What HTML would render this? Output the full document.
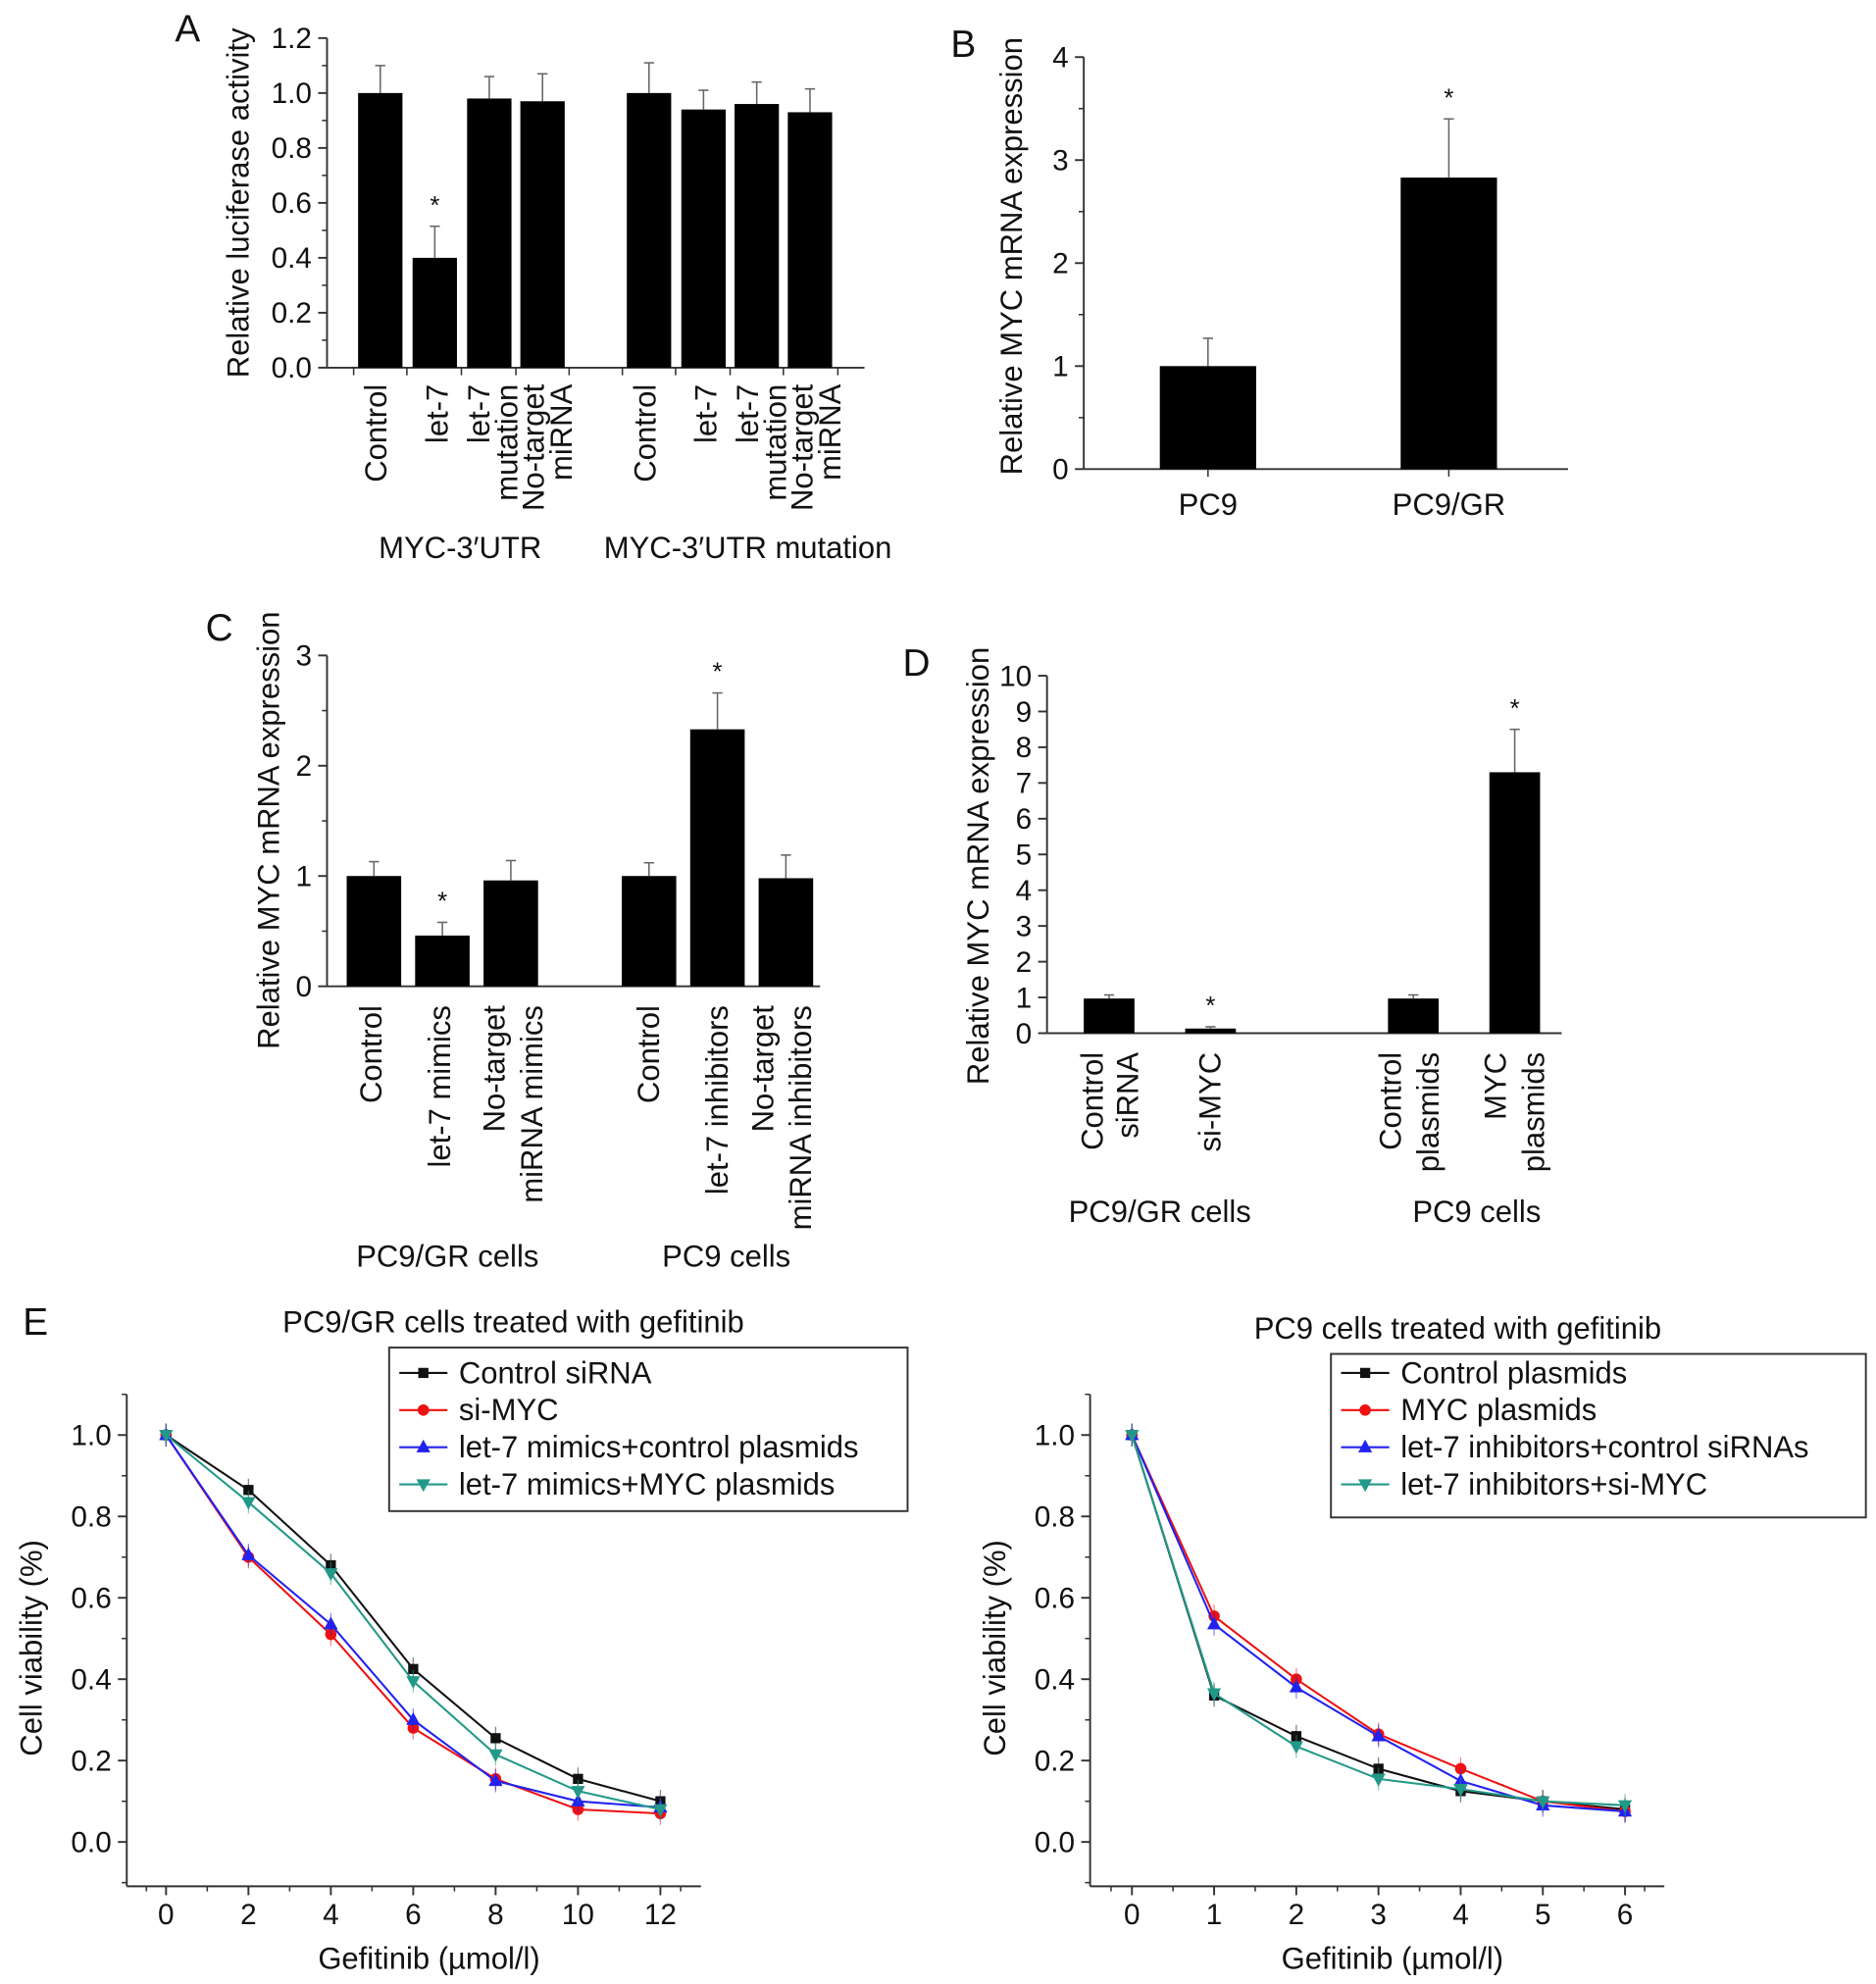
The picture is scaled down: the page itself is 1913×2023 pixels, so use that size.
<!DOCTYPE html>
<html><head><meta charset="utf-8"><style>
html,body{margin:0;padding:0;background:#fff;}
svg{display:block;font-family:"Liberation Sans",Arial,sans-serif;}
</style></head><body>
<svg id="fig" width="1913" height="2023" viewBox="0 0 1480 1565" xmlns="http://www.w3.org/2000/svg"></svg>
<script>
// ---------- DATA ----------
const aCats = ["Control","let-7","let-7 mutation","No-target miRNA","Control","let-7","let-7 mutation","No-target miRNA"];
const aVals = [1.0,0.40,0.98,0.97,1.0,0.94,0.96,0.93];
const aErrs = [0.10,0.115,0.08,0.10,0.11,0.07,0.08,0.085];
const aTicks = ["0.0","0.2","0.4","0.6","0.8","1.0","1.2"];
const bCats = ["PC9","PC9/GR"];
const bVals = [1.0,2.83];
const bErrs = [0.27,0.57];
const bTicks = ["0","1","2","3","4"];
const cCats = ["Control","let-7 mimics","No-target miRNA mimics","Control","let-7 inhibitors","No-target miRNA inhibitors"];
const cVals = [1.0,0.46,0.96,1.0,2.33,0.98];
const cErrs = [0.13,0.12,0.18,0.12,0.33,0.21];
const cTicks = ["0","1","2","3"];
const dCats = ["Control siRNA","si-MYC","Control plasmids","MYC plasmids"];
const dVals = [0.97,0.13,0.97,7.3];
const dErrs = [0.10,0.05,0.10,1.2];
const dTicks = ["0","1","2","3","4","5","6","7","8","9","10"];
const eLeftX = [0,2,4,6,8,10,12];
const eLeftControl = [1.0,0.865,0.68,0.425,0.255,0.155,0.10];
const eLeftSiMyc = [1.0,0.70,0.51,0.28,0.155,0.08,0.07];
const eLeftMimCtrl = [1.0,0.705,0.535,0.30,0.15,0.10,0.085];
const eLeftMimMyc = [1.0,0.835,0.66,0.395,0.215,0.125,0.08];
const eRightX = [0,1,2,3,4,5,6];
const eRightControl = [1.0,0.36,0.26,0.18,0.125,0.10,0.08];
const eRightMycPl = [1.0,0.555,0.40,0.265,0.18,0.10,0.075];
const eRightInhCtrl = [1.0,0.535,0.38,0.26,0.15,0.09,0.075];
const eRightInhSi = [1.0,0.365,0.235,0.155,0.13,0.10,0.09];
const eYTicks = ["0.0","0.2","0.4","0.6","0.8","1.0"];

const NS="http://www.w3.org/2000/svg";
const svg=document.getElementById('fig');
function mk(tag,attrs,parent,txt){const e=document.createElementNS(NS,tag);for(const k in attrs)e.setAttribute(k,attrs[k]);if(txt!==undefined)e.textContent=txt;(parent||svg).appendChild(e);return e;}
function line(x1,y1,x2,y2,w,c,p){return mk('line',{x1,y1,x2,y2,stroke:c||'#000','stroke-width':w||1.5},p);}
function text(x,y,s,size,anchor,p,rot){const a={x,y,'font-size':size,'text-anchor':anchor||'middle',fill:'#111'};if(rot)a.transform=`rotate(-90 ${x} ${y})`;return mk('text',a,p,s);}

function barPanel(o){
  const g=mk('g',{});
  
  
  const ys=v=>o.y0-(v/o.ymax)*(o.y0-o.ytop);
  const ax=mk('g',{},g);
  line(o.x0,o.y0,o.x0,o.ytop,1.5,'#333',ax);
  o.ticks.forEach((t,i)=>{const v=i*o.step;const y=ys(v);line(o.x0-7,y,o.x0,y,1.5,'#333',ax);text(o.x0-12,y+8,t,o.tickSize||23,'end',ax);
    if(o.minor&&i<o.ticks.length-1){line(o.x0-4,ys(v+o.step/2),o.x0,ys(v+o.step/2),1.2,'#333',ax);}});
  const xa=mk('g',{},g);
  line(o.x0,o.y0,o.x1,o.y0,1.5,'#333',xa);
  (o.xticks||[]).forEach(x=>line(x,o.y0,x,o.y0+6,1.2,'#333',xa));
  o.vals.forEach((v,i)=>{
    const cx=o.centers[i];
    const r=mk('rect',{x:cx-o.bw/2,y:ys(v),width:o.bw,height:o.y0-ys(v),fill:'#000'},g);
    
    
    const ey=ys(v+o.errs[i]);
    line(cx,ys(v),cx,ey,1.2,'#666',g);line(cx-4,ey,cx+4,ey,1.2,'#666',g);
    if(o.stars&&o.stars.includes(i)){const s=text(cx,ey-10,'*',20,'middle',g);}
  });
  return g;
}

// Panel A
barPanel({name:'panel-a',x0:258,x1:682,y0:290,ytop:30,ymax:1.2,step:0.2,ticks:aTicks,vals:aVals,errs:aErrs,cats:aCats,
  centers:[300,343,386,428,512,555,597,639],bw:35,stars:[1],minor:true,xticks:[279,321,364,407,449,491,533,576,618,661]});
[[297,'Control'],[345,'let-7'],[378,'let-7'],[400,'mutation'],[421,'No-target'],[443,'miRNA'],
 [509,'Control'],[557,'let-7'],[590,'let-7'],[612,'mutation'],[633,'No-target'],[655,'miRNA']].forEach(([x,s])=>{const t=text(x+8,303,s,24,'end',null,true);});
text(363,440,'MYC-3′UTR',24);text(590,440,'MYC-3′UTR mutation',24);
text(196,160,'Relative luciferase activity',24,'middle',null,true);
text(148,33,'A',30);

// Panel B
barPanel({name:'panel-b',x0:855,x1:1237,y0:370,ytop:45,ymax:4,step:1,ticks:bTicks,vals:bVals,errs:bErrs,cats:bCats,
  centers:[953,1143],bw:76,stars:[1],minor:true,xticks:[953,1143]});
text(953,406,'PC9',24);text(1143,406,'PC9/GR',24);
text(806,202,'Relative MYC mRNA expression',24,'middle',null,true);
text(760,45,'B',30);

// Panel C
barPanel({name:'panel-c',x0:258,x1:647,y0:778,ytop:517,ymax:3,step:1,ticks:cTicks,vals:cVals,errs:cErrs,cats:cCats,
  centers:[295,349,403,512,566,620],bw:43,stars:[1,4],minor:true});
[[293,'Control'],[347,'let-7 mimics'],[390,'No-target'],[420,'miRNA mimics'],[512,'Control'],[566,'let-7 inhibitors'],[602,'No-target'],[632,'miRNA inhibitors']].forEach(([x,s])=>{const t=text(x+8,793,s,24,'end',null,true);});
text(353,999,'PC9/GR cells',24);text(573,999,'PC9 cells',24);
text(220,655,'Relative MYC mRNA expression',24,'middle',null,true);
text(173,505,'C',30);

// Panel D
barPanel({name:'panel-d',x0:826,x1:1232,y0:815,ytop:533,ymax:10,step:1,ticks:dTicks,vals:dVals,errs:dErrs,cats:dCats,
  centers:[875,955,1115,1195],bw:40,stars:[1,3],minor:false});
[[862,'Control'],[890,'siRNA'],[955,'si-MYC'],[1097,'Control'],[1127,'plasmids'],[1180,'MYC'],[1210,'plasmids']].forEach(([x,s])=>{const t=text(x+8,830,s,24,'end',null,true);});
text(915,964,'PC9/GR cells',24);text(1165,964,'PC9 cells',24);
text(780,683,'Relative MYC mRNA expression',24,'middle',null,true);
text(723,533,'D',30);

// Panel E line charts
const colors=['#111','#ee1111','#2222ee','#229988'];
function marker(kind,x,y,c,p){
  let m;
  if(kind===0)m=mk('rect',{x:x-4,y:y-4,width:8,height:8,fill:c},p);
  else if(kind===1)m=mk('circle',{cx:x,cy:y,r:4.5,fill:c},p);
  else if(kind===2)m=mk('polygon',{points:`${x},${y-6} ${x-5.5},${y+4} ${x+5.5},${y+4}`,fill:c},p);
  else m=mk('polygon',{points:`${x},${y+6} ${x-5.5},${y-4} ${x+5.5},${y-4}`,fill:c},p);
  return m;
}
function linePanel(o){
  const g=mk('g',{});
  const xs=v=>o.xa+(v-o.xs[0])/(o.xs[o.xs.length-1]-o.xs[0])*(o.xb-o.xa);
  const ys=v=>1453-v*321;
  line(o.x0,1100,o.x0,1488,1.5,'#333',g);line(o.x0,1488,o.x1,1488,1.5,'#333',g);
  eYTicks.forEach((t,i)=>{const y=ys(i*0.2);line(o.x0-7,y,o.x0,y,1.5,'#333',g);text(o.x0-12,y+8,t,23,'end',g);line(o.x0-4,ys(i*0.2+0.1),o.x0,ys(i*0.2+0.1),1.2,'#333',g);});
  line(o.x0-4,ys(-0.1),o.x0,ys(-0.1),1.2,'#333',g);
  o.xs.forEach((v,i)=>{const x=xs(v);line(x,1488,x,1495,1.5,'#333',g);text(x,1518,String(v),23,'middle',g);
    if(i<o.xs.length-1){const xm=(x+xs(o.xs[i+1]))/2;line(xm,1488,xm,1492,1.2,'#333',g);}});
  line((o.x0+xs(o.xs[0]))/2,1488,(o.x0+xs(o.xs[0]))/2,1492,1.2,'#333',g);
  line((o.x1+xs(o.xs[o.xs.length-1]))/2,1488,(o.x1+xs(o.xs[o.xs.length-1]))/2,1492,1.2,'#333',g);
  o.series.forEach((s,k)=>{
    const sg=mk('g',{},g);
    const pts=s.map((v,i)=>xs(o.xs[i])+','+ys(v)).join(' ');
    mk('polyline',{points:pts,fill:'none',stroke:colors[k],'stroke-width':1.6},sg);
    s.forEach((v,i)=>{const x=xs(o.xs[i]),y=ys(v);line(x,y-9,x,y+9,1,colors[k],sg).setAttribute('opacity','0.5');
      const m=marker(k,x,y,colors[k],sg);});
  });
  const lg=mk('g',{},g);
  mk('rect',{x:o.lx,y:o.ly,width:o.lw,height:129,fill:'#fff',stroke:'#333','stroke-width':1.5},lg);
  o.labels.forEach((l,k)=>{const y=1083+k*29.3;line(o.lx+8,y,o.lx+46,y,1.6,colors[k],lg);marker(k,o.lx+27,y,colors[k],lg);
    const t=text(o.lx+55,y+8,l,24,'start',lg);});
  text(o.titleX,o.titleY,o.title,24,'middle',g);
  text((o.x0+o.x1)/2+12,1553,'Gefitinib (µmol/l)',24,'middle',g);
  text(o.x0-67,1300,'Cell viability (%)',24,'middle',g,true);
}
linePanel({name:'panel-e-left',x0:100,x1:553,xa:131,xb:521,xs:eLeftX,series:[eLeftControl,eLeftSiMyc,eLeftMimCtrl,eLeftMimMyc],
  labels:['Control siRNA','si-MYC','let-7 mimics+control plasmids','let-7 mimics+MYC plasmids'],lx:307,ly:1063,lw:409,
  title:'PC9/GR cells treated with gefitinib',titleX:405,titleY:1051});
linePanel({name:'panel-e-right',x0:860,x1:1313,xa:893,xb:1282,xs:eRightX,series:[eRightControl,eRightMycPl,eRightInhCtrl,eRightInhSi],
  labels:['Control plasmids','MYC plasmids','let-7 inhibitors+control siRNAs','let-7 inhibitors+si-MYC'],lx:1050,ly:1068,lw:422,
  title:'PC9 cells treated with gefitinib',titleX:1150,titleY:1056});
text(18,1053,'E',30,'start');
</script>
</body></html>
